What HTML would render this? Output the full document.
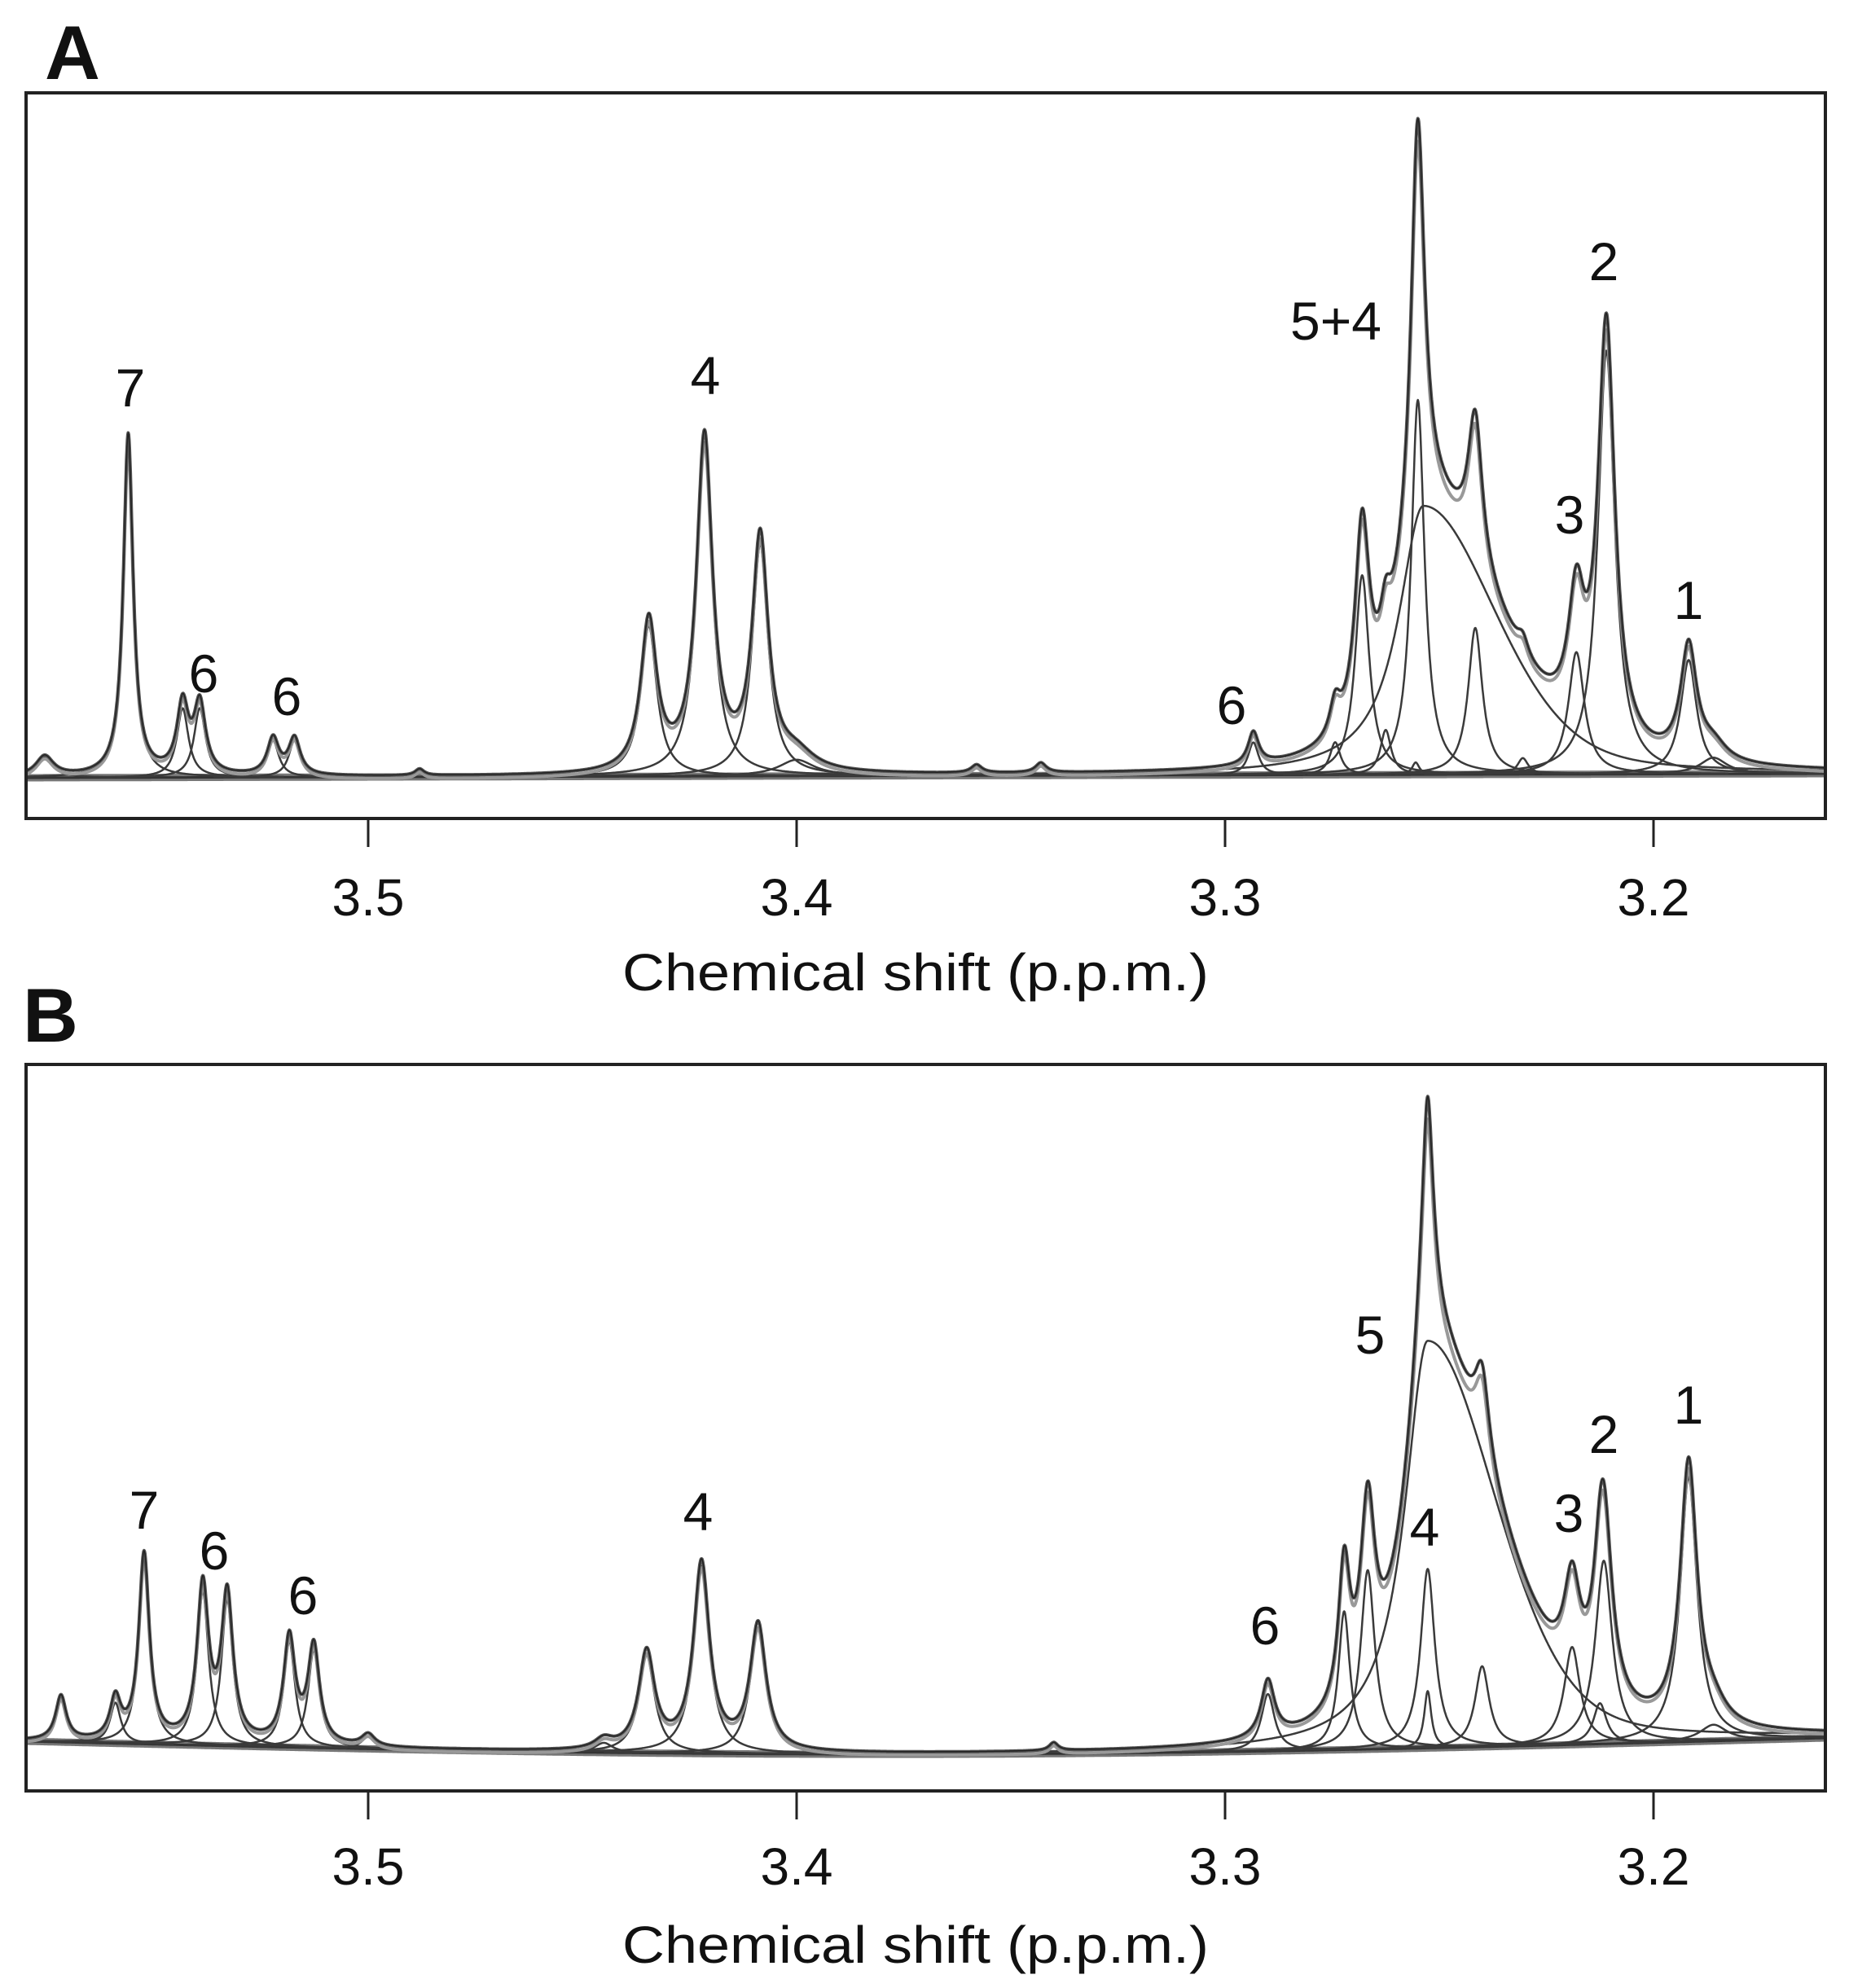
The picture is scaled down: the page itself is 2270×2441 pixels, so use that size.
<!DOCTYPE html>
<html><head><meta charset="utf-8">
<style>
html,body{margin:0;padding:0;background:#fff;}
svg{display:block;}
text{font-family:"Liberation Sans",Arial,sans-serif;fill:#111;}
</style></head>
<body>
<svg id="s" width="2270" height="2441" viewBox="0 0 2270 2441" xmlns="http://www.w3.org/2000/svg">
<defs>
<clipPath id="cA"><rect x="32" y="114" width="2209" height="891"/></clipPath>
<clipPath id="cB"><rect x="32" y="1307" width="2209" height="892"/></clipPath>
</defs>
<rect width="2270" height="2441" fill="#fff"/>
<g id="gA" clip-path="url(#cA)"></g>
<g id="gB" clip-path="url(#cB)"></g>
<rect x="32" y="114" width="2209" height="891" fill="none" stroke="#222" stroke-width="4"/>
<rect x="32" y="1307" width="2209" height="892" fill="none" stroke="#222" stroke-width="4"/>
<g stroke="#222" stroke-width="3">
<line x1="452" y1="1005" x2="452" y2="1040"/><line x1="978" y1="1005" x2="978" y2="1040"/>
<line x1="1504" y1="1005" x2="1504" y2="1040"/><line x1="2030" y1="1005" x2="2030" y2="1040"/>
<line x1="452" y1="2199" x2="452" y2="2234"/><line x1="978" y1="2199" x2="978" y2="2234"/>
<line x1="1504" y1="2199" x2="1504" y2="2234"/><line x1="2030" y1="2199" x2="2030" y2="2234"/>
</g>
<g font-size="64" text-anchor="middle">
<text x="452" y="1124">3.5</text><text x="978" y="1124">3.4</text><text x="1504" y="1124">3.3</text><text x="2030" y="1124">3.2</text>
<text x="452" y="2314">3.5</text><text x="978" y="2314">3.4</text><text x="1504" y="2314">3.3</text><text x="2030" y="2314">3.2</text>
</g>
<g font-size="64">
<text x="764" y="1216" textLength="720" lengthAdjust="spacingAndGlyphs">Chemical shift (p.p.m.)</text>
<text x="764" y="2410" textLength="720" lengthAdjust="spacingAndGlyphs">Chemical shift (p.p.m.)</text>
</g>
<g font-size="94" font-weight="bold">
<text x="55" y="97">A</text>
<text x="28" y="1279">B</text>
</g>
<g font-size="66" text-anchor="middle">
<text x="160" y="499">7</text><text x="250" y="850">6</text><text x="352" y="878">6</text>
<text x="866" y="484">4</text><text x="1512" y="889">6</text><text x="1640" y="417">5+4</text>
<text x="1927" y="655">3</text><text x="1969" y="344">2</text><text x="2073" y="760">1</text>
<text x="177" y="1877">7</text><text x="263" y="1927">6</text><text x="372" y="1982">6</text>
<text x="857" y="1879">4</text><text x="1553" y="2019">6</text><text x="1682" y="1662">5</text>
<text x="1749" y="1898">4</text><text x="1926" y="1881">3</text><text x="1969" y="1784">2</text><text x="2073" y="1748">1</text>
</g>
</svg>
<script>
(function(){
var NS="http://www.w3.org/2000/svg";
var WS=1.25;
function X(p){return 452+(3.5-p)*5260;}
function L(p,c){var d=p-c[0];
 if(c[3]&&d<0){var w=c[3];var r=d/w;return c[1]*(0.3/(1+r*r)+0.7*Math.exp(-0.693*r*r));}
 var w=c[2]*(c[3]?1:WS);var r=d/w;return c[1]/(1+r*r);}
var A=[[3.556,420,0.0011],[3.5433,85,0.0013],[3.5393,85,0.0013],[3.5222,45,0.0013],[3.5172,45,0.0013],[3.5755,25,0.002],
[3.4345,185,0.0018],[3.4215,410,0.0018],[3.4085,285,0.0018],[3.400,20,0.004],[3.488,8,0.001],[3.358,10,0.0012],[3.343,12,0.0012],
[3.2934,40,0.0012],[3.2743,40,0.0012],[3.268,245,0.0016],[3.255,460,0.0015],[3.2416,180,0.0016],[3.2555,15,0.0008],
[3.2537,330,0.007,0.02],[3.2625,55,0.0012],[3.2305,20,0.0012],
[3.218,150,0.0018],[3.211,520,0.0019],[3.1918,140,0.0018],[3.186,20,0.003]];
var B=[[3.5717,55,0.0012],[3.559,50,0.0012],[3.5523,230,0.0012],[3.5386,190,0.0013],[3.5329,180,0.0013],[3.5184,130,0.0013],[3.5127,120,0.0013],[3.500,15,0.0015],
[3.435,120,0.0018],[3.4222,230,0.0018],[3.409,155,0.0018],[3.445,12,0.002],[3.34,10,0.001],
[3.290,70,0.0015],[3.2722,170,0.0013],[3.2667,220,0.0016],[3.2527,220,0.0016],[3.240,99,0.0016],
[3.2527,500,0.0065,0.019],[3.2527,70,0.0008],
[3.219,120,0.0018],[3.2116,225,0.0019],[3.2125,50,0.0015],[3.1918,325,0.0019],[3.186,20,0.003]];
function baseA(p){var t=(3.58-p)/0.42;return 955-5*t;}
function baseB(p){var t=(3.58-p)/0.42;return 2138+18*Math.sin(Math.PI*t)-4*t;}
function path(d,stroke,w,g){var e=document.createElementNS(NS,"path");e.setAttribute("d",d);e.setAttribute("fill","none");
e.setAttribute("stroke",stroke);e.setAttribute("stroke-width",w);e.setAttribute("stroke-linejoin","round");g.appendChild(e);}
function draw(comps,base,gid,off){
var g=document.getElementById(gid);var step=0.0001;
var d="";for(var p=3.585;p>=3.155;p-=step){d+=(d?"L":"M")+X(p).toFixed(1)+","+base(p).toFixed(1);}
path(d,"#777",9,g);path(d,"#333",3,g);
comps.forEach(function(c){var s="",on=false;for(var p=3.585;p>=3.155;p-=step){var v=L(p,c);
if(v<0.6){on=false;continue;}var pt=X(p).toFixed(1)+","+(base(p)-v).toFixed(1);s+=(on?"L":"M")+pt;on=true;}
if(s)path(s,"#3a3a3a",2.5,g);});
var t1="",t2="";for(var p=3.585;p>=3.155;p-=step){var v=0;comps.forEach(function(c){v+=L(p,c);});
var x=X(p).toFixed(1);t1+=(t1?"L":"M")+x+","+(base(p)-v).toFixed(1);t2+=(t2?"L":"M")+x+","+(base(p)-v*0.97+off).toFixed(1);}
path(t2,"#999",4,g);path(t1,"#555",4,g);path(t1,"#222",1.5,g);
}
draw(A,baseA,"gA",4);draw(B,baseB,"gB",4);
})();
</script>
</body></html>
